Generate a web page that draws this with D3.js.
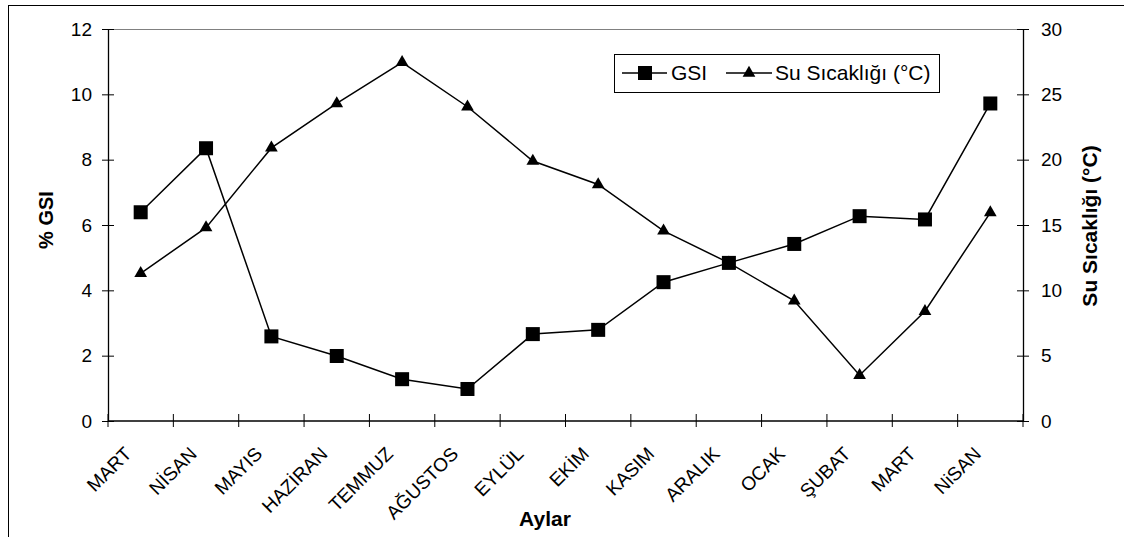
<!DOCTYPE html>
<html>
<head>
<meta charset="utf-8">
<script src="https://cdn.jsdelivr.net/npm/d3@7"></script>
<style>
  html, body { margin: 0; padding: 0; background: #fff; }
  svg { display: block; font-family: "Liberation Sans", Arial, sans-serif; }
</style>
</head>
<body>
<svg id="chart" width="1124" height="537"></svg>
<script>
const months = ["MART", "NİSAN", "MAYIS", "HAZİRAN", "TEMMUZ", "AĞUSTOS", "EYLÜL", "EKİM", "KASIM", "ARALIK", "OCAK", "ŞUBAT", "MART", "NiSAN"];
const gsi = [6.39, 8.35, 2.59, 1.99, 1.28, 0.98, 2.66, 2.79, 4.25, 4.84, 5.42, 6.27, 6.17, 9.72];
const temp = [11.3, 14.8, 20.9, 24.3, 27.45, 24.05, 19.9, 18.1, 14.55, 12.1, 9.2, 3.5, 8.4, 15.95];
const leftTicks = [0, 2, 4, 6, 8, 10, 12];
const rightTicks = [0, 5, 10, 15, 20, 25, 30];
const seriesNames = ["GSI", "Su Sıcaklığı (°C)"];
const axisTitles = { left: "% GSI", right: "Su Sıcaklığı (°C)", bottom: "Aylar" };

const svg = d3.select("#chart");
const L = 108, R = 1023, T = 29, B = 421;
const FONT = "'Liberation Sans', Arial, sans-serif";

// outer chart frame
svg.append("rect").attr("x", 8.5).attr("y", 5.5).attr("width", 1300).attr("height", 700)
  .attr("fill", "none").attr("stroke", "#000").attr("stroke-width", 1);

const idx = months.map((d, i) => i);
const x = d3.scaleBand().domain(idx).range([L, R]);
const yL = d3.scaleLinear().domain([0, 12]).range([B, T]);
const yR = d3.scaleLinear().domain([0, 30]).range([B, T]);
const cx = i => x(i) + x.bandwidth() / 2;

// plot area top border (gray)
svg.append("line").attr("x1", L).attr("x2", R).attr("y1", T + 0.5).attr("y2", T + 0.5)
  .attr("stroke", "#808080").attr("stroke-width", 1);

function styleAxis(g) {
  g.selectAll(".domain").attr("stroke", "#000").attr("stroke-width", 1.3);
  g.selectAll(".tick line").attr("stroke", "#000").attr("stroke-width", 1);
  g.selectAll("text").attr("fill", "#000").style("font-size", "19px").style("font-family", FONT);
}

// left axis
const gl = svg.append("g").attr("transform", `translate(${L},0)`)
  .call(d3.axisLeft(yL).tickValues(leftTicks).tickSize(6).tickSizeOuter(0).tickPadding(10));
gl.selectAll(".tick line").attr("x2", 6).attr("x1", -6);
styleAxis(gl);

// right axis
const gr = svg.append("g").attr("transform", `translate(${R},0)`)
  .call(d3.axisRight(yR).tickValues(rightTicks).tickSize(6).tickSizeOuter(0).tickPadding(12));
gr.selectAll(".tick line").attr("x1", -6).attr("x2", 6);
styleAxis(gr);

// bottom axis: ticks at category boundaries
const bounds = d3.range(months.length + 1).map(i => L + i * x.bandwidth());
const gb = svg.append("g").attr("transform", `translate(0,${B})`);
gb.append("line").attr("x1", L).attr("x2", R).attr("stroke", "#000").attr("stroke-width", 1.3);
gb.selectAll("line.tk").data(bounds).enter().append("line").attr("class", "tk")
  .attr("x1", d => d).attr("x2", d => d).attr("y1", -7).attr("y2", 6)
  .attr("stroke", "#000").attr("stroke-width", 1);
gb.selectAll("text.mo").data(months).enter().append("text").attr("class", "mo")
  .attr("transform", (d, i) => `translate(${cx(i) - 8},${34}) rotate(-45)`)
  .attr("text-anchor", "end")
  .style("font-size", "19px").style("font-family", FONT)
  .text(d => d);

// lines
const lineG = d3.line().x((d, i) => cx(i)).y(d => yL(d));
const lineT = d3.line().x((d, i) => cx(i)).y(d => yR(d));
svg.append("path").datum(gsi).attr("d", lineG).attr("fill", "none").attr("stroke", "#000").attr("stroke-width", 1.5);
svg.append("path").datum(temp).attr("d", lineT).attr("fill", "none").attr("stroke", "#000").attr("stroke-width", 1.5);

// markers
const sq = 14;
svg.selectAll("rect.gsi").data(gsi).enter().append("rect").attr("class", "gsi")
  .attr("x", (d, i) => cx(i) - sq / 2).attr("y", d => yL(d) - sq / 2)
  .attr("width", sq).attr("height", sq).attr("fill", "#000");
const tri = d3.symbol().type(d3.symbolTriangle).size(70);
svg.selectAll("path.tmp").data(temp).enter().append("path").attr("class", "tmp")
  .attr("transform", (d, i) => `translate(${cx(i)},${yR(d)})`)
  .attr("d", tri).attr("fill", "#000");

// axis titles
svg.append("text").attr("transform", `translate(53,220) rotate(-90)`)
  .attr("text-anchor", "middle").style("font-size", "20px").style("font-weight", "bold").text(axisTitles.left);
svg.append("text").attr("transform", `translate(1097,226) rotate(-90)`)
  .attr("text-anchor", "middle").style("font-size", "21px").style("font-weight", "bold").text(axisTitles.right);
svg.append("text").attr("x", 545).attr("y", 526)
  .attr("text-anchor", "middle").style("font-size", "21px").style("font-weight", "bold").text(axisTitles.bottom);

// legend
const lg = svg.append("g");
lg.append("rect").attr("x", 614.5).attr("y", 54.5).attr("width", 325).attr("height", 38)
  .attr("fill", "#fff").attr("stroke", "#000").attr("stroke-width", 1);
const ly = 73;
lg.append("line").attr("x1", 622).attr("x2", 667).attr("y1", ly).attr("y2", ly).attr("stroke", "#000").attr("stroke-width", 1.5);
lg.append("rect").attr("x", 645 - sq / 2).attr("y", ly - sq / 2).attr("width", sq).attr("height", sq).attr("fill", "#000");
lg.append("text").attr("x", 671).attr("y", 80).style("font-size", "21px").text(seriesNames[0]);
lg.append("line").attr("x1", 726).attr("x2", 772).attr("y1", ly).attr("y2", ly).attr("stroke", "#000").attr("stroke-width", 1.5);
lg.append("path").attr("transform", `translate(749,${ly})`).attr("d", tri).attr("fill", "#000");
lg.append("text").attr("x", 775).attr("y", 80).style("font-size", "21px").text(seriesNames[1]);
</script>
</body>
</html>
